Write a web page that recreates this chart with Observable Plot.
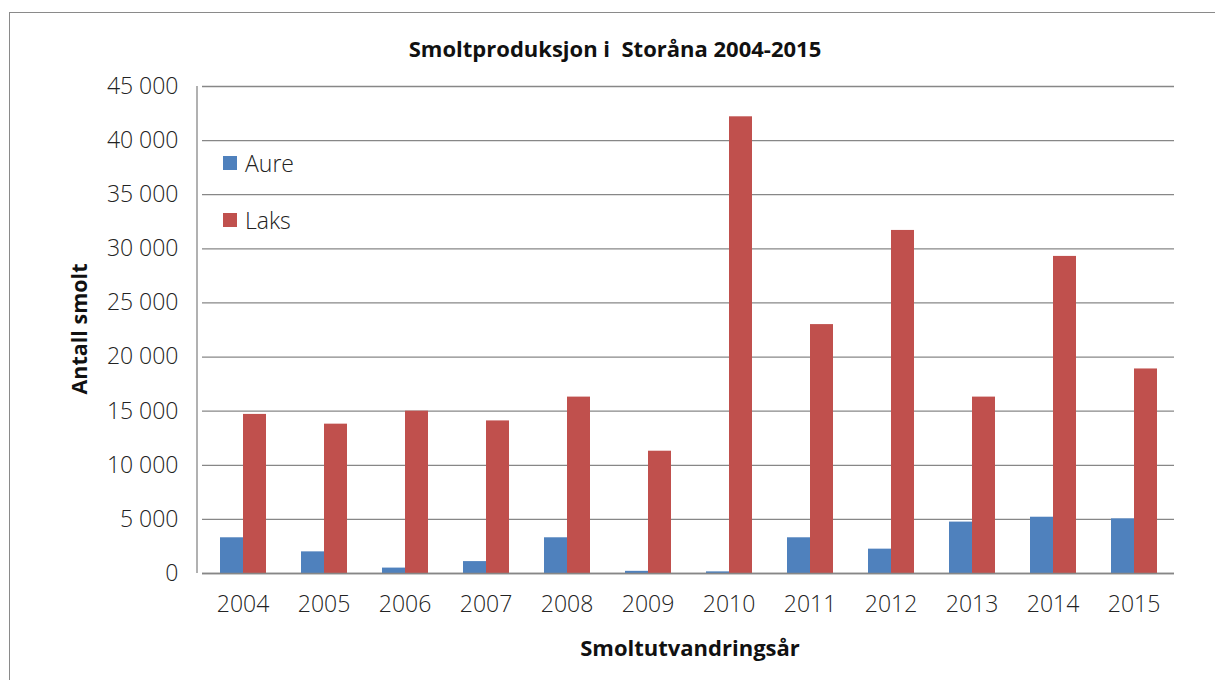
<!DOCTYPE html>
<html>
<head>
<meta charset="utf-8">
<script src="https://cdn.jsdelivr.net/npm/d3@7"></script>
<script src="https://cdn.jsdelivr.net/npm/@observablehq/plot@0.6"></script>
<style>
  html, body { margin: 0; padding: 0; background: #fff; }
  #wrap { position: relative; width: 1215px; height: 680px; overflow: hidden; font-family: "Open Sans", sans-serif; }
  #border { position: absolute; left: 9px; top: 12px; width: 1210px; height: 700px; border: 1px solid #8a8a8a; box-sizing: border-box; }
  #title { position: absolute; left: 0; width: 1230px; top: 33px; text-align: center; font-weight: 700; font-size: 22px; color: #111; white-space: pre; }
  #ytitle { position: absolute; left: 78px; top: 329px; transform: translate(-50%, -50%) rotate(-90deg); font-weight: 700; font-size: 21.5px; color: #111; white-space: nowrap; }
  #xtitle { position: absolute; left: 0; width: 1380px; top: 632px; text-align: center; font-weight: 700; font-size: 22px; color: #111; }
  #chart { position: absolute; left: 0; top: 70px; }
  .leg { position: absolute; left: 223px; font-size: 23px; font-weight: 300; color: #222; display: flex; align-items: center; }
  .leg span.sw { display: inline-block; width: 14px; height: 14px; margin-right: 8px; }
</style>
</head>
<body>
<div id="wrap">
  <div id="border"></div>
  <div id="title"></div>
  <div id="chart"></div>
  <div id="ytitle"></div>
  <div id="xtitle"></div>
  <div id="legend"></div>
</div>
<script>
const titleText = "Smoltproduksjon i  Storåna 2004-2015";
const yTitle = "Antall smolt";
const xTitle = "Smoltutvandringsår";
const years = ["2004","2005","2006","2007","2008","2009","2010","2011","2012","2013","2014","2015"];
const series = ["Aure", "Laks"];
const aure = [3300, 2000, 500, 1100, 3300, 200, 150, 3300, 2250, 4750, 5200, 5050];
const laks = [14700, 13800, 15000, 14100, 16300, 11300, 42200, 23000, 31700, 16300, 29300, 18900];
const colors = ["#4F81BD", "#C0504D"];
const yTicks = [0, 5000, 10000, 15000, 20000, 25000, 30000, 35000, 40000, 45000];

const data = years.flatMap((yr, i) => [
  {year: yr, serie: series[0], value: aure[i]},
  {year: yr, serie: series[1], value: laks[i]}
]);

const fmt = d => d3.format(",")(d).replace(/,/g, " ");

const chart = Plot.plot({
  width: 1215,
  height: 610,
  marginLeft: 197,
  marginRight: 37,
  marginTop: 16,
  marginBottom: 107,
  style: {fontFamily: "'Open Sans', sans-serif", fontSize: "23px", color: "#222", background: "transparent"},
  facet: {data: data, x: "year"},
  fx: {domain: years, padding: 0, label: null},
  x: {domain: series, paddingInner: 0, paddingOuter: 0.7, axis: null},
  y: {domain: [0, 45000], label: null},
  color: {domain: series, range: colors},
  marks: [
    Plot.gridY(yTicks, {stroke: "#878787", strokeOpacity: 1, strokeWidth: 1.3}),
    Plot.barY(data, {x: "serie", y: "value", fill: "serie"}),
    Plot.ruleY([0], {stroke: "#878787", strokeWidth: 1.3}),
    Plot.axisY(yTicks, {tickSize: 0, tickPadding: 24, tickFormat: fmt, label: null, fontWeight: 300}),
    Plot.axisFx({anchor: "bottom", tickSize: 0, tickPadding: 22, label: null, fontWeight: 300})
  ]
});
document.getElementById("chart").appendChild(chart);

document.getElementById("title").textContent = titleText;
document.getElementById("ytitle").textContent = yTitle;
document.getElementById("xtitle").textContent = xTitle;

const legend = document.getElementById("legend");
const legendTops = [163, 220];
series.forEach((s, i) => {
  const d = document.createElement("div");
  d.className = "leg";
  d.style.top = (legendTops[i] - 16) + "px";
  d.innerHTML = `<span class="sw" style="background:${colors[i]}"></span>${s}`;
  legend.appendChild(d);
});

// vertical axis line at the left of the plot area, placed with the y scale
const ys = chart.scale("y");
const svgNS = "http://www.w3.org/2000/svg";
const line = document.createElementNS(svgNS, "line");
line.setAttribute("x1", 197); line.setAttribute("x2", 197);
line.setAttribute("y1", ys.apply(45000)); line.setAttribute("y2", ys.apply(0));
line.setAttribute("stroke", "#878787"); line.setAttribute("stroke-width", 1.3);
chart.appendChild(line);
</script>
</body>
</html>
